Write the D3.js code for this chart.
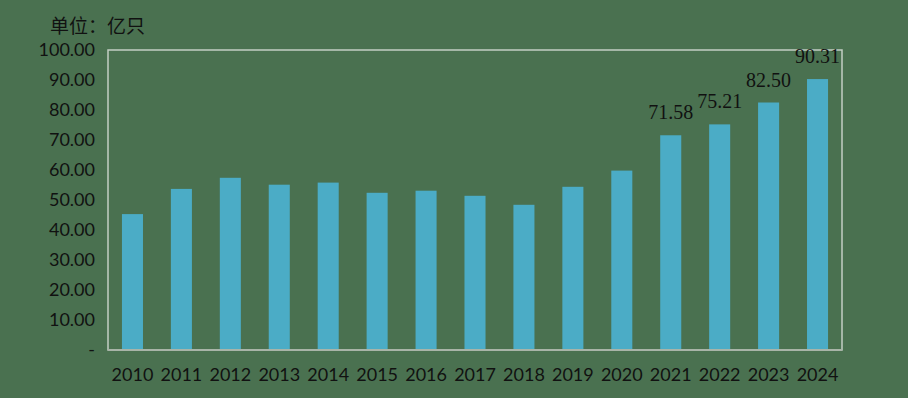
<!DOCTYPE html>
<html>
<head>
<meta charset="utf-8">
<script src="https://cdn.jsdelivr.net/npm/d3@7"></script>
<style>
  html, body { margin: 0; padding: 0; background: #4a7150; }
  svg { display: block; }
</style>
</head>
<body>
<div id="chart"></div>
<script>
// data
const years = ['2010', '2011', '2012', '2013', '2014', '2015', '2016', '2017',
               '2018', '2019', '2020', '2021', '2022', '2023', '2024'];
const output = [45.3, 53.7, 57.4, 55.1, 55.8, 52.4, 53.1, 51.4,
                48.4, 54.4, 59.8, 71.58, 75.21, 82.50, 90.31];
const labelled = ['2021', '2022', '2023', '2024'];
const yTicks = [0, 10, 20, 30, 40, 50, 60, 70, 80, 90, 100];
const unitText = '单位：亿只';

const width = 908, height = 398;
const margin = { top: 50, right: 66, bottom: 48, left: 108 };

const svg = d3.select('#chart').append('svg')
  .attr('width', width)
  .attr('height', height);

svg.append('rect')
  .attr('width', width)
  .attr('height', height)
  .attr('fill', '#4a7150');

const x = d3.scaleBand()
  .domain(years)
  .range([margin.left, width - margin.right])
  .paddingInner(0.57)
  .paddingOuter(0.285);

const y = d3.scaleLinear()
  .domain([0, 100])
  .range([height - margin.bottom, margin.top]);

// plot area border
svg.append('rect')
  .attr('x', margin.left)
  .attr('y', margin.top)
  .attr('width', width - margin.left - margin.right)
  .attr('height', height - margin.top - margin.bottom)
  .attr('fill', 'none')
  .attr('stroke', '#c4cec4')
  .attr('stroke-width', 1.5);

// bars
svg.append('g')
  .selectAll('rect')
  .data(years)
  .join('rect')
  .attr('x', d => x(d))
  .attr('y', (d, i) => y(output[i]))
  .attr('width', x.bandwidth())
  .attr('height', (d, i) => y(0) - y(output[i]))
  .attr('fill', '#4bacc6');

// axis baseline on top of bars
svg.append('line')
  .attr('x1', margin.left)
  .attr('x2', width - margin.right)
  .attr('y1', y(0))
  .attr('y2', y(0))
  .attr('stroke', '#a8b4a8')
  .attr('stroke-width', 2);

// y axis
const yAxis = d3.axisLeft(y)
  .tickValues(yTicks)
  .tickSize(0)
  .tickPadding(13)
  .tickFormat(d => d === 0 ? '-  ' : d3.format('.2f')(d));

const yg = svg.append('g')
  .attr('transform', `translate(${margin.left},0)`)
  .call(yAxis);
yg.select('.domain').remove();
yg.selectAll('text')
  .attr('font-family', 'Lato, sans-serif')
  .attr('font-size', 18)
  .attr('fill', '#111');

// x axis
const xAxis = d3.axisBottom(x).tickSize(0).tickPadding(18);
const xg = svg.append('g')
  .attr('transform', `translate(0,${y(0)})`)
  .call(xAxis);
xg.select('.domain').remove();
xg.selectAll('text')
  .attr('font-family', 'Lato, sans-serif')
  .attr('font-size', 18)
  .attr('fill', '#111');

// value labels for the last years
svg.append('g')
  .selectAll('text')
  .data(years.filter(d => labelled.includes(d)))
  .join('text')
  .attr('x', d => x(d) + x.bandwidth() / 2)
  .attr('y', d => y(output[years.indexOf(d)]) - 16)
  .attr('text-anchor', 'middle')
  .attr('font-family', '"Liberation Serif", serif')
  .attr('font-size', 20)
  .attr('fill', '#111')
  .text(d => d3.format('.2f')(output[years.indexOf(d)]));

// unit
svg.append('text')
  .attr('x', 50)
  .attr('y', 33)
  .attr('font-family', '"Noto Sans CJK SC", sans-serif')
  .attr('font-size', 19)
  .attr('fill', '#111')
  .text(unitText);
</script>
</body>
</html>
